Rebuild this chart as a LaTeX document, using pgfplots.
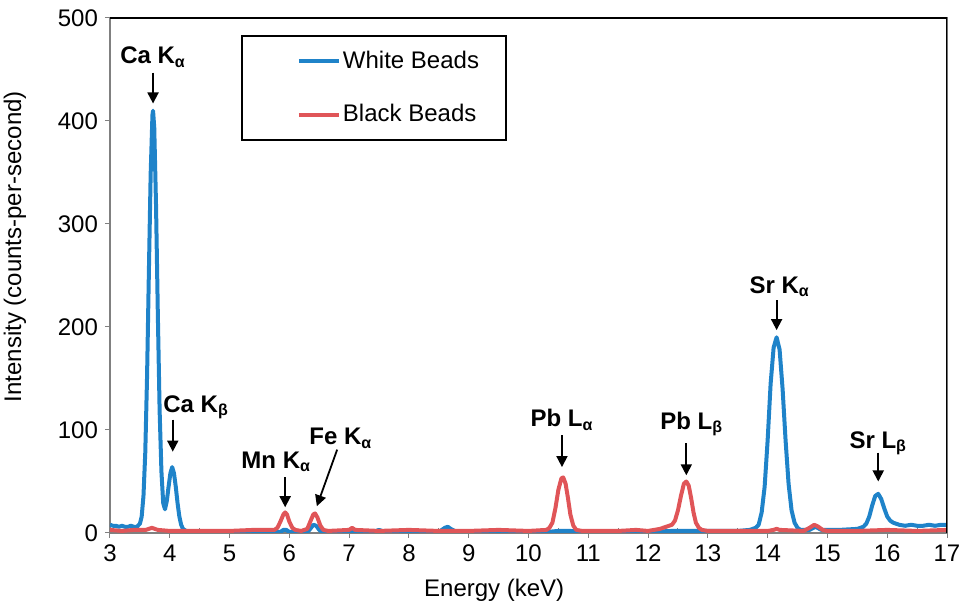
\documentclass[border=0pt]{standalone}
\usepackage{fontspec}
\setmainfont{Liberation Sans}
\usepackage{pgfplots}
\pgfplotsset{compat=1.18}
\usetikzlibrary{arrows.meta}

\definecolor{whitebead}{HTML}{1F83C9}
\definecolor{blackbead}{HTML}{E05558}
\definecolor{axisgray}{HTML}{808080}

\tikzset{
  peak/.style={font=\fontsize{12}{14}\selectfont\bfseries, inner sep=0pt},
  pointer/.style={-{Triangle[length=5.5pt,width=5.5pt]}, line width=0.9pt, black},
}

\begin{document}
\begin{tikzpicture}[font=\fontsize{12}{14}\selectfont]
\begin{axis}[
    scale only axis,
    width=418.5pt,
    height=257.5pt,
    xmin=3, xmax=17,
    ymin=0, ymax=500,
    xtick={3,...,17},
    ytick={0,100,...,500},
    xtick pos=bottom,
    ytick pos=left,
    tick align=outside,
    major tick length=2.5pt,
    tick style={axisgray, line width=0.5pt},
    extra x ticks={3.5,4.5,...,16.5},
    extra x tick labels={},
    extra x tick style={tick align=inside, major tick length=2.5pt},
    axis line style={axisgray, line width=0.6pt},
    /pgf/number format/assume math mode=true,
    ticklabel style={font=\fontsize{12}{14}\selectfont},
    xlabel={Energy (keV)},
    ylabel={Intensity (counts-per-second)},
    every axis x label/.style={at={(axis description cs:0.459,0)}, yshift=-28.5pt, anchor=center},
    every axis y label/.style={at={(axis description cs:0,0.556)}, xshift=-47.5pt, rotate=90, anchor=center},
    legend style={
        at={(0.1565,0.967)}, anchor=north west,
        draw=black, line width=1pt,
        inner xsep=12.5pt, inner ysep=5.5pt,
        row sep=12.5pt,
        nodes={inner xsep=1pt},
        font=\fontsize{12}{14}\selectfont,
    },
    legend cell align=left,
    legend image code/.code={
        \path[draw=none] (0pt,0pt) -- (36pt,0pt);
        \draw[#1, line width=2pt] (16pt,0pt) -- (36pt,0pt);
    },
    every axis plot/.append style={line width=2pt, line join=round},
]

% White beads
\addplot[whitebead] coordinates {
(3.00,8) (3.05,7) (3.10,7) (3.15,6) (3.20,7) (3.25,6) (3.30,6) (3.35,7) (3.40,6) (3.45,6)
(3.50,9) (3.53,16) (3.56,36) (3.59,78) (3.62,152) (3.65,252) (3.68,348) (3.71,406)
(3.72,410) (3.74,394) (3.77,318) (3.80,213) (3.83,119) (3.86,60) (3.89,29) (3.92,23)
(3.95,31) (3.98,45) (4.01,58) (4.04,64) (4.07,58) (4.10,45) (4.13,29) (4.16,16)
(4.19,8) (4.22,4) (4.27,2)
(4.60,1) (5.00,1) (5.50,1) (5.85,1) (5.90,3) (5.95,3) (6.00,1) (6.30,1) (6.35,4)
(6.40,8) (6.45,7) (6.50,3) (6.55,1) (7.40,1) (7.50,3) (7.60,1) (8.50,1) (8.60,5)
(8.65,6) (8.70,4) (8.80,1) (9.50,1) (10.30,1) (10.50,2) (10.70,2) (11.00,1) (12.00,1)
(12.40,2) (12.80,2) (13.20,2) (13.50,2) (13.70,3) (13.80,5) (13.85,8) (13.90,20)
(13.95,45) (14.00,90) (14.05,145) (14.10,180) (14.15,190) (14.20,178) (14.25,140)
(14.30,90) (14.35,48) (14.40,22) (14.45,10) (14.50,5) (14.55,3) (14.70,3) (14.80,6)
(14.90,3) (15.20,3) (15.50,4) (15.60,6) (15.65,9) (15.70,16) (15.75,27) (15.80,36)
(15.85,38) (15.90,33) (15.95,24) (16.00,16) (16.05,12) (16.10,10) (16.20,8) (16.30,7)
(16.40,8) (16.50,7) (16.60,7) (16.70,8) (16.80,7) (16.90,8) (17.00,8)
};
\addlegendentry{White Beads}

% Black beads
\addplot[blackbead] coordinates {
(3.00,3) (3.20,2) (3.40,3) (3.60,3) (3.70,5) (3.80,3) (4.00,2) (4.50,2) (5.00,2)
(5.40,3) (5.60,3) (5.75,3) (5.80,5) (5.85,11) (5.90,18) (5.93,20) (5.96,18) (6.00,11)
(6.05,5) (6.10,3) (6.20,2) (6.30,4) (6.35,11) (6.40,18) (6.43,19) (6.47,15) (6.52,7)
(6.57,3) (6.65,2) (7.00,3) (7.05,5) (7.10,3) (7.50,2) (8.00,3) (8.50,2) (9.00,2)
(9.50,3) (10.00,2) (10.30,3) (10.35,5) (10.40,10) (10.45,24) (10.50,42) (10.55,53)
(10.58,54) (10.62,48) (10.66,34) (10.70,18) (10.75,7) (10.80,3) (10.90,2) (11.50,2)
(11.80,3) (12.00,2) (12.20,4) (12.30,6) (12.40,8) (12.45,12) (12.50,22) (12.55,36)
(12.60,48) (12.64,50) (12.68,46) (12.72,34) (12.76,20) (12.80,10) (12.85,5) (12.90,3)
(13.00,2) (13.50,2) (14.00,2) (14.10,3) (14.15,4) (14.20,3) (14.60,2) (14.70,5)
(14.78,8) (14.85,6) (14.92,3) (15.00,2) (15.50,2) (16.00,3) (16.50,2) (17.00,3)
};
\addlegendentry{Black Beads}

% plot area border (top and right)
\draw[black, line width=0.7pt] (rel axis cs:0,1) -- (rel axis cs:1,1) -- (rel axis cs:1,0);

% peak labels
\node[peak] at (axis cs:3.72,462) {Ca K\textsubscript{α}};
\draw[pointer] (axis cs:3.72,447) -- (axis cs:3.72,417);
\node[peak] at (axis cs:4.44,122) {Ca K\textsubscript{β}};
\draw[pointer] (axis cs:4.05,110) -- (axis cs:4.05,79);
\node[peak] at (axis cs:5.78,69) {Mn K\textsubscript{α}};
\draw[pointer] (axis cs:5.93,54) -- (axis cs:5.93,25);
\node[peak] at (axis cs:6.86,92) {Fe K\textsubscript{α}};
\draw[pointer] (axis cs:6.80,81) -- (axis cs:6.46,26);
\node[peak] at (axis cs:10.56,110) {Pb L\textsubscript{α}};
\draw[pointer] (axis cs:10.56,95) -- (axis cs:10.56,64);
\node[peak] at (axis cs:12.73,106) {Pb L\textsubscript{β}};
\draw[pointer] (axis cs:12.64,87) -- (axis cs:12.64,56);
\node[peak] at (axis cs:14.20,239) {Sr K\textsubscript{α}};
\draw[pointer] (axis cs:14.15,226) -- (axis cs:14.15,197);
\node[peak] at (axis cs:15.85,87) {Sr L\textsubscript{β}};
\draw[pointer] (axis cs:15.85,78) -- (axis cs:15.85,50);
\end{axis}
\pgfresetboundingbox
\path ([shift={(-55pt,-36pt)}]current axis.south west) rectangle ([shift={(8.5pt,9pt)}]current axis.north east);
\end{tikzpicture}
\end{document}
